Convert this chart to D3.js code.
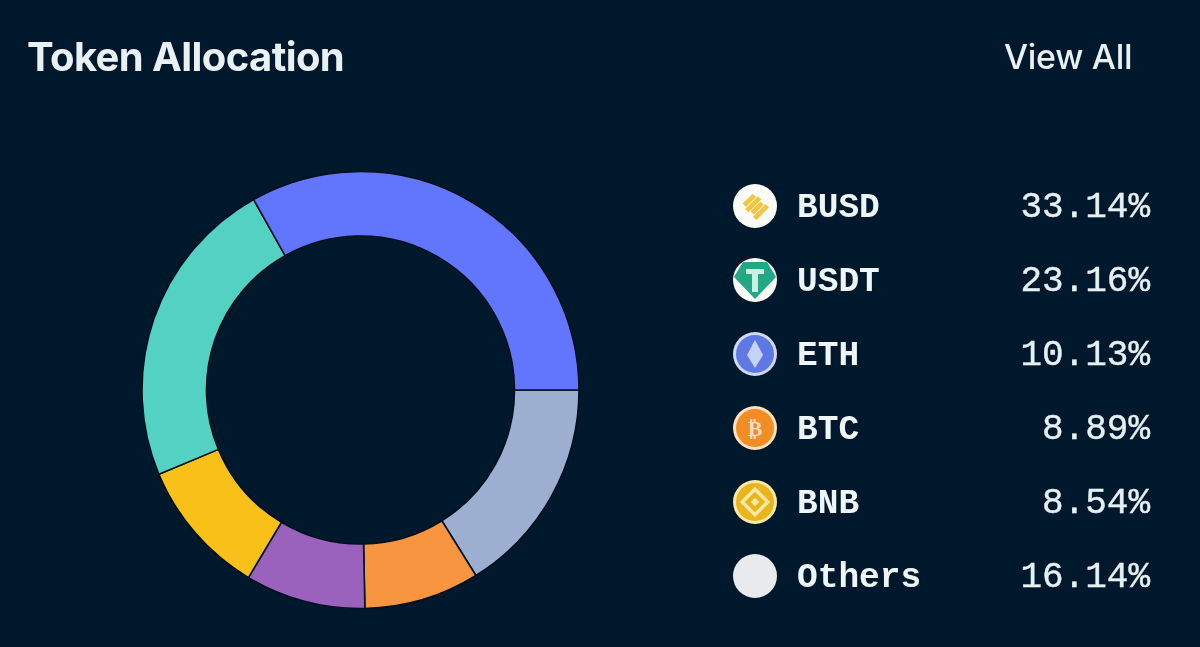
<!DOCTYPE html>
<html>
<head>
<meta charset="utf-8">
<script src="https://cdn.jsdelivr.net/npm/d3@7"></script>
<style>
  html, body { margin: 0; padding: 0; background: #00182b; overflow: hidden; }
  /* the source is a soft screenshot */
  svg { filter: blur(0.5px); }
</style>
</head>
<body>
<div class="chart"></div>
<script>
//Width and height
const w = 1200;
const h = 647;

// legend order
const tokens = ["BUSD", "USDT", "ETH", "BTC", "BNB", "Others"];
const shares = [33.14, 23.16, 10.13, 8.89, 8.54, 16.14];
const shareLabels = ["33.14%", "23.16%", "10.13%", "8.89%", "8.54%", "16.14%"];

// clockwise from 3 o'clock the ring runs through the legend backwards
const ringOrder = ["Others", "BNB", "BTC", "ETH", "USDT", "BUSD"];
const ringColors = ["#9cafd0", "#f89540", "#9b62bd", "#f8c018", "#53d1c3", "#6176fc"];

const svg = d3
  .select(".chart")
  .append("svg")
  .attr("width", w)
  .attr("height", h)
  .style("display", "block");

// title row
svg
  .append("text")
  .attr("x", 27)
  .attr("y", 71)
  .attr("fill", "#e9f1f4")
  .attr("font-family", "Inter")
  .attr("font-size", 40)
  .attr("font-weight", 700)
  .attr("letter-spacing", -0.6)
  .text("Token Allocation");

svg
  .append("text")
  .attr("x", 1004)
  .attr("y", 69)
  .attr("fill", "#e9f1f4")
  .attr("font-family", "Inter")
  .attr("font-size", 34)
  .attr("font-weight", 500)
  .attr("letter-spacing", -0.3)
  .text("View All");

// the ring
const ringData = ringOrder.map((t) => ({
  token: t,
  value: shares[tokens.indexOf(t)],
}));

const color = d3.scaleOrdinal().domain(ringOrder).range(ringColors);

const pie = d3
  .pie()
  .sort(null)
  .value((d) => d.value)
  .startAngle(Math.PI / 2)
  .endAngle(Math.PI / 2 + 2 * Math.PI);

const arc = d3.arc().innerRadius(154).outerRadius(218.5);

svg
  .append("g")
  .attr("transform", "translate(360.5,390)")
  .selectAll("path")
  .data(pie(ringData))
  .enter()
  .append("path")
  .attr("d", arc)
  .attr("fill", (d) => color(d.data.token))
  .attr("stroke", "#00101e")
  .attr("stroke-width", 1.6);

// legend rows
const y = d3.scalePoint().domain(tokens).range([206, 576]);

const rows = svg
  .selectAll(".row")
  .data(tokens)
  .enter()
  .append("g")
  .attr("class", "row")
  .attr("transform", (d) => `translate(0,${y(d)})`);

rows
  .append("text")
  .attr("x", 797)
  .attr("y", 10.5)
  .attr("fill", "#eef6f8")
  .attr("font-family", "Liberation Mono")
  .attr("font-size", 34.5)
  .attr("font-weight", 700)
  .text((d) => d);

rows
  .append("text")
  .attr("x", 1150)
  .attr("y", 10.5)
  .attr("text-anchor", "end")
  .attr("fill", "#e6f0f3")
  .attr("stroke", "#e6f0f3")
  .attr("stroke-width", 0.4)
  .attr("font-family", "Liberation Mono")
  .attr("font-size", 36)
  .text((d, i) => shareLabels[i]);

// coin icons, all drawn around 0,0 with radius 22
const icon = rows
  .append("g")
  .attr("class", "icon")
  .attr("transform", "translate(755,0)");

const coin = (name, fill, ring) => {
  const g = icon.filter((d) => d === name);
  g.append("circle").attr("r", 22).attr("fill", ring);
  g.append("circle").attr("r", 19).attr("fill", fill);
  return g;
};

const busd = coin("BUSD", "#fbfbf8", "#fbfbf8");
busd
  .append("g")
  .attr("transform", "rotate(45)")
  .selectAll("rect")
  .data([-8, -2.5, 3, 8.5])
  .enter()
  .append("rect")
  .attr("x", (d) => d - 2.4)
  .attr("y", (d, i) => (i % 2 ? -9 : -7))
  .attr("width", 4.8)
  .attr("height", (d, i) => (i % 2 ? 18 : 14))
  .attr("fill", "#f4c640");

const usdt = coin("USDT", "#fbfbf8", "#fbfbf8");
usdt
  .append("path")
  .attr("d", "M-12,-18 L12,-18 L21,-3 L0,19 L-21,-3 Z")
  .attr("fill", "#22a884");
usdt
  .append("path")
  .attr("d", "M-9,-11 H9 V-6 H3 V12 H-3 V-6 H-9 Z")
  .attr("fill", "#c8f0e3");

const eth = coin("ETH", "#5f78e4", "#cfd8f8");
eth.append("path").attr("d", "M0,-14 L8,1 L0,14 L-8,1 Z").attr("fill", "#c6d2fa");

const btc = coin("BTC", "#f28c25", "#fde3bf");
btc
  .append("text")
  .attr("text-anchor", "middle")
  .attr("y", 8)
  .attr("font-family", "DejaVu Sans")
  .attr("font-size", 22)
  .attr("font-weight", 700)
  .attr("fill", "#fbdcc0")
  .text("₿");

const bnb = coin("BNB", "#e8b51d", "#f9e9a8");
const bnbMark = bnb.append("g").attr("transform", "rotate(45)");
bnbMark
  .append("rect")
  .attr("x", -9)
  .attr("y", -9)
  .attr("width", 18)
  .attr("height", 18)
  .attr("fill", "none")
  .attr("stroke", "#f9e7a4")
  .attr("stroke-width", 3.5);
bnbMark
  .append("rect")
  .attr("x", -3)
  .attr("y", -3)
  .attr("width", 6)
  .attr("height", 6)
  .attr("fill", "#f9e7a4");

coin("Others", "#e8eaed", "#e8eaed");
</script>
</body>
</html>
